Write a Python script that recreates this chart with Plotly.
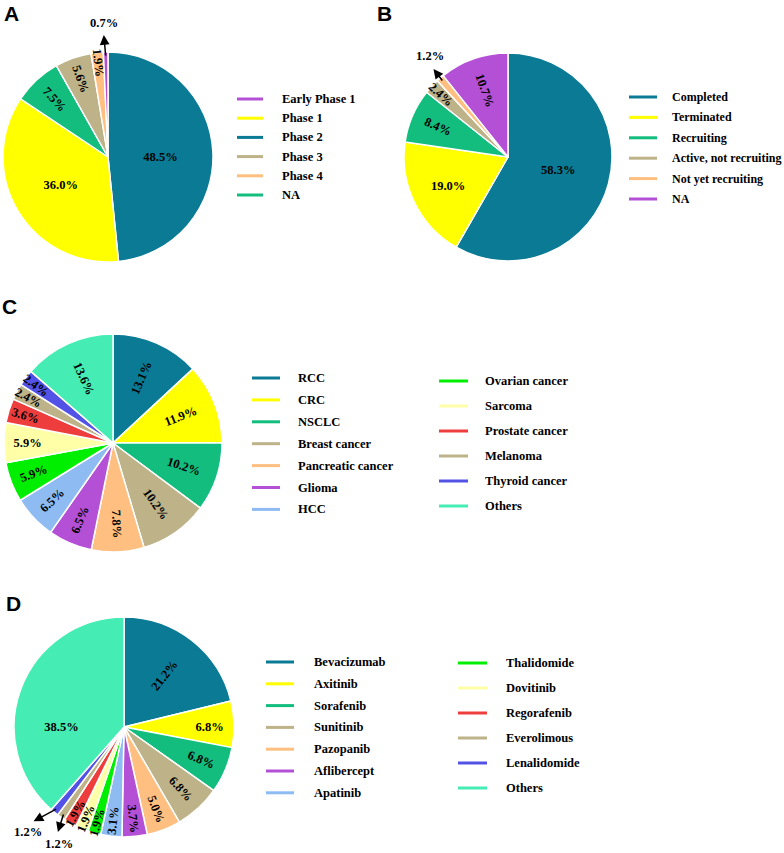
import math
import plotly.graph_objects as go

W, H = 784, 853

# ---- data (percent of trials) ----
phase_labels = ["Early Phase 1", "Phase 1", "Phase 2", "Phase 3", "Phase 4", "NA"]
phase_values = [0.7, 36.0, 48.5, 5.6, 1.9, 7.5]
phase_pie_order = ["Phase 2", "Phase 1", "NA", "Phase 3", "Phase 4", "Early Phase 1"]

status_labels = ["Completed", "Terminated", "Recruiting", "Active, not recruiting",
                 "Not yet recruiting", "NA"]
status_values = [58.3, 19.0, 8.4, 2.4, 1.2, 10.7]

cancer_labels = ["RCC", "CRC", "NSCLC", "Breast cancer", "Pancreatic cancer", "Glioma", "HCC",
                 "Ovarian cancer", "Sarcoma", "Prostate cancer", "Melanoma", "Thyroid cancer", "Others"]
cancer_values = [13.1, 11.9, 10.2, 10.2, 7.8, 6.5, 6.5, 5.9, 5.9, 3.6, 2.4, 2.4, 13.6]

drug_labels = ["Bevacizumab", "Axitinib", "Sorafenib", "Sunitinib", "Pazopanib", "Aflibercept",
               "Apatinib", "Thalidomide", "Dovitinib", "Regorafenib", "Everolimous",
               "Lenalidomide", "Others"]
drug_values = [21.2, 6.8, 6.8, 6.8, 5.0, 3.7, 3.1, 1.9, 1.9, 1.9, 1.2, 1.2, 38.5]

# ---- colours ----
TEAL, YELLOW, GREEN, TAN = "#0B7A95", "#FFFF00", "#12BD7E", "#BDB288"
SALMON, PURPLE, LBLUE = "#FFBF80", "#B350D5", "#8EBBF2"
BGREEN, LYELLOW, RED, BLUE, AQUA = "#00EE00", "#FFFFA8", "#EE3D3D", "#5252E6", "#45EDB4"

phase_colors = {"Early Phase 1": PURPLE, "Phase 1": YELLOW, "Phase 2": TEAL,
                "Phase 3": TAN, "Phase 4": SALMON, "NA": GREEN}
status_colors = [TEAL, YELLOW, GREEN, TAN, SALMON, PURPLE]
cancer_colors = [TEAL, YELLOW, GREEN, TAN, SALMON, PURPLE, LBLUE,
                 BGREEN, LYELLOW, RED, TAN, BLUE, AQUA]
drug_colors = cancer_colors

SERIF = "Liberation Serif"
SANS = "Liberation Sans"
LBL = dict(family=SERIF, size=12.5, color="black", weight="bold")


def px(x, y):
    return x / W, 1 - y / H


phase_vals_pie = [phase_values[phase_labels.index(l)] for l in phase_pie_order]

panels = [
    dict(letter="A", lx=2, ly=13,
         labels=phase_pie_order, values=phase_vals_pie,
         colors=[phase_colors[l] for l in phase_pie_order],
         cx=108, cy=157, r=105, flat=["Phase 1"],
         legend_labels=phase_labels, legend_colors=[phase_colors[l] for l in phase_labels],
         cols=[dict(n=6, x0=237, x1=263, xt=280, y0=99, dy=19.2)], leg_size=12.5,
         outside={"Early Phase 1": ((-2, -22), (0, -12))}),
    dict(letter="B", lx=375, ly=13,
         labels=status_labels, values=status_values, colors=status_colors,
         cx=508, cy=157, r=104, flat=["Completed", "Terminated"],
         legend_labels=status_labels, legend_colors=status_colors,
         cols=[dict(n=6, x0=629, x1=657, xt=670, y0=97, dy=20.4)], leg_size=12,
         outside={"Not yet recruiting": ((-10, -13), (-3, -13))}),
    dict(letter="C", lx=0, ly=306,
         labels=cancer_labels, values=cancer_values, colors=cancer_colors,
         cx=113, cy=443, r=109, flat=[],
         legend_labels=cancer_labels, legend_colors=cancer_colors,
         cols=[dict(n=7, x0=252, x1=280, xt=296, y0=378, dy=21.9),
               dict(n=6, x0=439, x1=468, xt=483, y0=381, dy=25.0)], leg_size=12.5,
         outside={}),
    dict(letter="D", lx=4, ly=603,
         labels=drug_labels, values=drug_values, colors=drug_colors,
         cx=124, cy=727, r=110, flat=[],
         legend_labels=drug_labels, legend_colors=drug_colors,
         cols=[dict(n=7, x0=266, x1=294, xt=312, y0=662, dy=21.8),
               dict(n=6, x0=458, x1=487, xt=504, y0=663, dy=25.0)], leg_size=12.5,
         outside={"Everolimous": ((-6, 19), (1, 12)),
                  "Lenalidomide": ((-24, 13), (-6, 11))}),
]

fig = go.Figure()
shapes, annotations = [], []

for p in panels:
    cx, cy, r = p["cx"], p["cy"], p["r"]
    dom = dict(x=[(cx - r) / W, (cx + r) / W], y=[1 - (cy + r) / H, 1 - (cy - r) / H])
    pct = [f"{v:.1f}%" for v in p["values"]]
    flat_txt = [t if l in p["flat"] else "" for l, t in zip(p["labels"], pct)]
    rad_txt = ["" if (l in p["flat"] or l in p["outside"]) else t
               for l, t in zip(p["labels"], pct)]

    # coloured pie with horizontal labels on the large slices
    fig.add_trace(go.Pie(
        labels=p["labels"], values=p["values"], sort=False, direction="clockwise",
        rotation=0, text=flat_txt, texttemplate="%{text}", textposition="inside",
        insidetextorientation="horizontal", textfont=LBL, insidetextfont=LBL,
        marker=dict(colors=p["colors"], line=dict(color="white", width=1.5)),
        domain=dom, showlegend=False, hoverinfo="label+value",
    ))
    # transparent copy carrying the radial labels
    fig.add_trace(go.Pie(
        labels=p["labels"], values=p["values"], sort=False, direction="clockwise",
        rotation=0, text=rad_txt, texttemplate="%{text}", textposition="inside",
        insidetextorientation="radial", textfont=LBL, insidetextfont=LBL,
        marker=dict(colors=["rgba(0,0,0,0)"] * len(p["labels"]), line=dict(width=0)),
        domain=dom, showlegend=False, hoverinfo="skip",
    ))

    # small slices: label outside with an arrow
    total = sum(p["values"])
    cum = 0
    for l, v in zip(p["labels"], p["values"]):
        if l in p["outside"]:
            th = 2 * math.pi * (cum + v / 2) / total
            rho = r - 5
            tx, ty = cx + rho * math.sin(th), cy - rho * math.cos(th)
            (hx, hy), (ox, oy) = p["outside"][l]
            headx, heady = tx + hx, ty + hy
            x, y = px(headx, heady)
            annotations.append(dict(x=x, y=y, xref="paper", yref="paper", text="",
                                    showarrow=True, ax=tx - headx, ay=ty - heady,
                                    arrowhead=2, arrowsize=1.3, arrowwidth=1.5,
                                    arrowcolor="black", standoff=0, startstandoff=0))
            x, y = px(headx + ox, heady + oy)
            annotations.append(dict(x=x, y=y, xref="paper", yref="paper",
                                    text=f"{v:.1f}%", showarrow=False,
                                    xanchor="center", yanchor="middle", font=LBL))
        cum += v

    # legend drawn as line swatches
    i = 0
    for c in p["cols"]:
        for k in range(c["n"]):
            yy = c["y0"] + k * c["dy"]
            x0, y0 = px(c["x0"], yy)
            x1, _ = px(c["x1"], yy)
            shapes.append(dict(type="line", xref="paper", yref="paper", x0=x0, x1=x1,
                               y0=y0, y1=y0, line=dict(color=p["legend_colors"][i], width=3)))
            xt, _ = px(c["xt"], yy)
            annotations.append(dict(x=xt, y=y0, xref="paper", yref="paper",
                                    text=p["legend_labels"][i], showarrow=False,
                                    xanchor="left", yanchor="middle",
                                    font=dict(family=SERIF, size=p["leg_size"],
                                              color="black", weight="bold")))
            i += 1

    x, y = px(p["lx"], p["ly"])
    annotations.append(dict(x=x, y=y, xref="paper", yref="paper", text=p["letter"],
                            showarrow=False, xanchor="left", yanchor="middle",
                            font=dict(family=SANS, size=21, color="black", weight="bold")))

fig.update_layout(
    width=W, height=H, margin=dict(l=0, r=0, t=0, b=0),
    paper_bgcolor="white", plot_bgcolor="white",
    uniformtext=dict(minsize=12, mode="show"),
    shapes=shapes, annotations=annotations,
)

fig.write_html("out.html", config={"displayModeBar": False},
               post_script="document.body.style.margin='0px';")
